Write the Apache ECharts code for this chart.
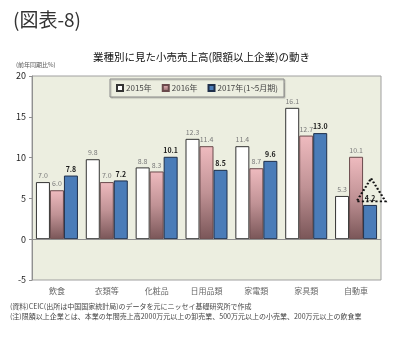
<!DOCTYPE html>
<html>
<head>
<meta charset="utf-8">
<script src="https://cdn.jsdelivr.net/npm/echarts@6/dist/echarts.min.js"></script>
<style>
html,body{margin:0;padding:0;background:#fff;}
#chart{width:393px;height:342px;}
</style>
</head>
<body>
<div id="chart"></div>
<script>
// Categories and year-on-year growth (%) by retail sector
const categories = ['飲食', '衣類等', '化粧品', '日用品類', '家電類', '家具類', '自動車'];
const seriesNames = ['2015年', '2016年', '2017年(1~5月期)'];
const values2015 = [7.0, 9.8, 8.8, 12.3, 11.4, 16.1, 5.3];
const values2016 = [6.0, 7.0, 8.3, 11.4, 8.7, 12.7, 10.1];
const values2017 = [7.8, 7.2, 10.1, 8.5, 9.6, 13.0, 4.2];
const yTicks = [-5, 0, 5, 10, 15, 20];

const FONT = '"Noto Sans CJK JP", "Noto Sans", sans-serif';
const chart = echarts.init(document.getElementById('chart'), null, { renderer: 'canvas' });

const labelGray = { show: true, position: 'top', distance: 3, fontSize: 7, color: '#7a7a7a', fontFamily: FONT, formatter: p => p.value.toFixed(1) };
const labelBold = { show: true, position: 'top', distance: 3, fontSize: 7, color: '#1a1a1a', fontWeight: 'bold', fontFamily: FONT, formatter: p => p.value.toFixed(1) };

chart.setOption({
  backgroundColor: '#ffffff',
  animation: false,
  textStyle: { fontFamily: FONT },
  title: [
    { text: '(図表-8)', left: 8, top: 5, textStyle: { fontSize: 19, fontWeight: 'normal', color: '#333', fontFamily: FONT } },
    { text: '業種別に見た小売売上高(限額以上企業)の動き', left: 88, top: 47, textStyle: { fontSize: 10.5, fontWeight: 'normal', color: '#111', fontFamily: FONT } },
    { text: '(前年同期比%)', left: 11, top: 57, textStyle: { fontSize: 6, fontWeight: 'normal', color: '#555', fontFamily: FONT } },
    { text: '(資料)CEIC(出所は中国国家統計局)のデータを元にニッセイ基礎研究所で作成', left: 5, top: 298, textStyle: { fontSize: 7, fontWeight: 'normal', color: '#444', fontFamily: FONT } },
    { text: '(注)限額以上企業とは、本業の年間売上高2000万元以上の卸売業、500万元以上の小売業、200万元以上の飲食業', left: 5, top: 308, textStyle: { fontSize: 7, fontWeight: 'normal', color: '#444', fontFamily: FONT } }
  ],
  legend: {
    left: 110, top: 79,
    padding: [5, 6, 5, 6],
    itemGap: 10,
    itemWidth: 6, itemHeight: 6,
    backgroundColor: '#ECEEE0',
    borderColor: '#8a8a8a', borderWidth: 1,
    shadowColor: 'rgba(0,0,0,0.2)', shadowOffsetX: 1, shadowOffsetY: 1, shadowBlur: 1,
    textStyle: { fontSize: 8, color: '#444', fontFamily: FONT, padding: [0, 0, 0, -2] },
    data: seriesNames.map(n => ({ name: n, icon: 'rect' }))
  },
  grid: {
    show: true, left: 32, right: 12, top: 76, bottom: 62,
    backgroundColor: '#ECEEE0', borderColor: '#a0a0a0', borderWidth: 1
  },
  xAxis: {
    type: 'category', data: categories,
    axisLine: { show: false, onZero: false },
    axisTick: { show: false },
    axisLabel: { fontSize: 8, color: '#666', margin: 7, fontFamily: FONT }
  },
  yAxis: {
    type: 'value', min: yTicks[0], max: yTicks[yTicks.length - 1], interval: 5,
    axisLine: { show: true, lineStyle: { color: '#909090' } },
    axisTick: { show: true, length: 3, lineStyle: { color: '#909090' } },
    splitLine: { show: false },
    axisLabel: { fontSize: 9, color: '#222', margin: 6, fontFamily: FONT }
  },
  series: [
    {
      name: seriesNames[0], type: 'bar', data: values2015,
      barWidth: 14, barGap: '0%',
      itemStyle: { color: '#ffffff', borderColor: '#333', borderWidth: 1 },
      label: labelGray,
      markLine: {
        silent: true, symbol: 'none', label: { show: false },
        lineStyle: { color: '#909090', type: 'solid', width: 1 },
        data: [{ yAxis: 0 }]
      }
    },
    {
      name: seriesNames[1], type: 'bar', data: values2016,
      barWidth: 14, barGap: '0%',
      itemStyle: {
        color: new echarts.graphic.LinearGradient(0, 0, 0, 1, [
          { offset: 0, color: '#EFBBBF' },
          { offset: 0.5, color: '#C09295' },
          { offset: 1, color: '#7A5658' }
        ]),
        borderColor: '#6a4a4c', borderWidth: 1
      },
      label: labelGray
    },
    {
      name: seriesNames[2], type: 'bar', data: values2017,
      barWidth: 14, barGap: '0%',
      itemStyle: { color: '#4A7CB8', borderColor: '#1f2f4a', borderWidth: 1 },
      label: labelBold,
      markPoint: {
        silent: true,
        symbol: 'triangle',
        symbolSize: [29, 23],
        symbolOffset: [1, -15],
        itemStyle: { color: 'rgba(0,0,0,0)', borderColor: '#111', borderWidth: 2, borderType: [2, 2] },
        label: { show: false },
        data: [{ coord: [6, values2017[6]] }]
      }
    }
  ]
});
</script>
</body>
</html>
